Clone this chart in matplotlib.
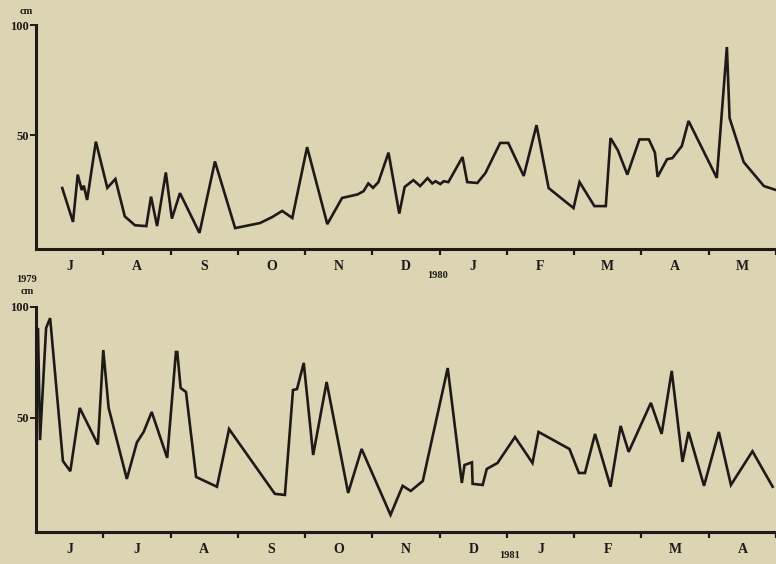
import matplotlib
matplotlib.use("Agg")
import matplotlib.pyplot as plt

# snow depth (cm); x is months since the first month shown (0 = 1 July 1979 / 1 June 1980)
months_top = ["J", "A", "S", "O", "N", "D", "J", "F", "M", "A", "M"]
t_top = [0.39, 0.55, 0.62, 0.68, 0.71, 0.76, 0.89, 1.06, 1.18, 1.32, 1.47, 1.64,
         1.71, 1.80, 1.93, 2.02, 2.14, 2.43, 2.66, 2.96, 3.33, 3.51, 3.66, 3.81,
         4.03, 4.33, 4.55, 4.78, 4.87, 4.94, 5.01, 5.09, 5.24, 5.40, 5.48, 5.61,
         5.71, 5.82, 5.89, 5.94, 6.01, 6.06, 6.13, 6.34, 6.41, 6.56, 6.68, 6.90,
         7.02, 7.25, 7.44, 7.62, 7.99, 8.08, 8.30, 8.47, 8.54, 8.65, 8.79, 8.97,
         9.11, 9.20, 9.24, 9.38, 9.46, 9.60, 9.70, 10.12, 10.27, 10.31, 10.52,
         10.82, 11.0]
cm_top = [25.9, 10.5, 32, 25, 27, 20.5, 47, 26, 30, 13, 9, 8.6,
          22, 8.6, 33, 12, 23.6, 5.5, 38, 7.7, 10, 12.7, 15.5, 12.3,
          44.5, 9.5, 21.4, 23, 24.5, 28, 26, 28.6, 42, 14.3, 26.4, 29.5,
          26.8, 30.4, 28, 29, 27.7, 29, 28.6, 40, 28.6, 28.2, 32.7, 46.4,
          46.4, 31.4, 54.5, 25.9, 16.8, 28.6, 17.7, 17.7, 48.6, 43, 32, 48,
          48, 42, 31, 39, 39.5, 45, 56.4, 30.5, 90, 57.7, 37.7,
          26.8, 25]

months_bot = ["J", "J", "A", "S", "O", "N", "D", "J", "F", "M", "A"]
t_bot = [0.03, 0.06, 0.15, 0.21, 0.40, 0.51, 0.65, 0.92, 1.00, 1.08, 1.35, 1.50,
         1.60, 1.72, 1.95, 2.08, 2.10, 2.15, 2.23, 2.38, 2.69, 2.87, 3.55, 3.70,
         3.82, 3.88, 3.98, 4.12, 4.32, 4.64, 4.84, 5.27, 5.45, 5.57, 5.75, 6.12,
         6.33, 6.37, 6.48, 6.49, 6.64, 6.70, 6.86, 7.12, 7.38, 7.47, 7.93, 8.07,
         8.16, 8.31, 8.54, 8.69, 8.81, 9.14, 9.30, 9.45, 9.61, 9.70, 9.93, 10.15,
         10.33, 10.65, 10.95]
cm_bot = [90, 40, 90.5, 95, 30.6, 26, 54.5, 38, 80.6, 54.5, 22.5, 39,
          43.7, 52.7, 32, 79.7, 79.7, 63.5, 61.7, 23.4, 19, 45, 15.8, 15.3,
          62.6, 63, 74.8, 33.3, 66.2, 16.2, 36, 6.3, 19.4, 17.1, 21.6, 72.5,
          20.7, 28.8, 30, 20.3, 19.8, 27, 29.7, 41.4, 29.7, 43.7, 36, 25.2,
          25.2, 42.8, 19, 46.4, 34.7, 56.8, 42.8, 71.2, 30.2, 43.7, 19.4, 43.7,
          19.8, 35, 19]

bg = "#dbd5b4"
ink = "#1e1a18"
font = {"family": "Liberation Serif", "weight": "bold"}

fig = plt.figure(figsize=(7.76, 5.64), dpi=100, facecolor=bg)


def panel(rect, t, cm, months, ymin):
    ax = fig.add_axes(rect, facecolor=bg)
    ax.plot(t, cm, color=ink, lw=1.9, solid_joinstyle="miter")
    ax.set_xlim(0, 11)
    ax.set_ylim(ymin, 100)
    for s in ["top", "right"]:
        ax.spines[s].set_visible(False)
    for s in ["left", "bottom"]:
        ax.spines[s].set_linewidth(2.2)
        ax.spines[s].set_color(ink)
    ax.spines["left"].set_bounds(ymin, 100)
    ax.set_xticks(range(1, 12))
    ax.set_xticklabels([])
    ax.set_xticks([i + 0.5 for i in range(11)], minor=True)
    ax.set_xticklabels(months, minor=True, fontsize=10, color=ink, **font)
    ax.tick_params(axis="x", which="major", length=4, width=1.6, color=ink, direction="out")
    ax.tick_params(axis="x", which="minor", length=0, pad=8)
    ax.set_yticks([50, 100])
    ax.set_yticklabels(["50", "100"], fontsize=9, color=ink, **font)
    ax.tick_params(axis="y", length=4, width=1.4, color=ink, pad=1)
    return ax


panel([36 / 776, 1 - 249 / 564, 1 - 36 / 776, 224 / 564], t_top, cm_top, months_top, -1.8)
panel([36 / 776, 1 - 532 / 564, 1 - 36 / 776, 225 / 564], t_bot, cm_bot, months_bot, -1.4)

fig.text(26 / 776, 1 - 11 / 564, "cm", ha="center", va="center", fontsize=7.5, color=ink, **font)
fig.text(27 / 776, 1 - 292 / 564, "cm", ha="center", va="center", fontsize=7.5, color=ink, **font)
fig.text(27 / 776, 1 - 279 / 564, "1979", ha="center", va="center", fontsize=7.5, color=ink, **font)
fig.text(438 / 776, 1 - 276 / 564, "1980", ha="center", va="center", fontsize=7.5, color=ink, **font)
fig.text(510 / 776, 1 - 555 / 564, "1981", ha="center", va="center", fontsize=7.5, color=ink, **font)

fig.savefig("out.png", dpi=100, facecolor=bg)
